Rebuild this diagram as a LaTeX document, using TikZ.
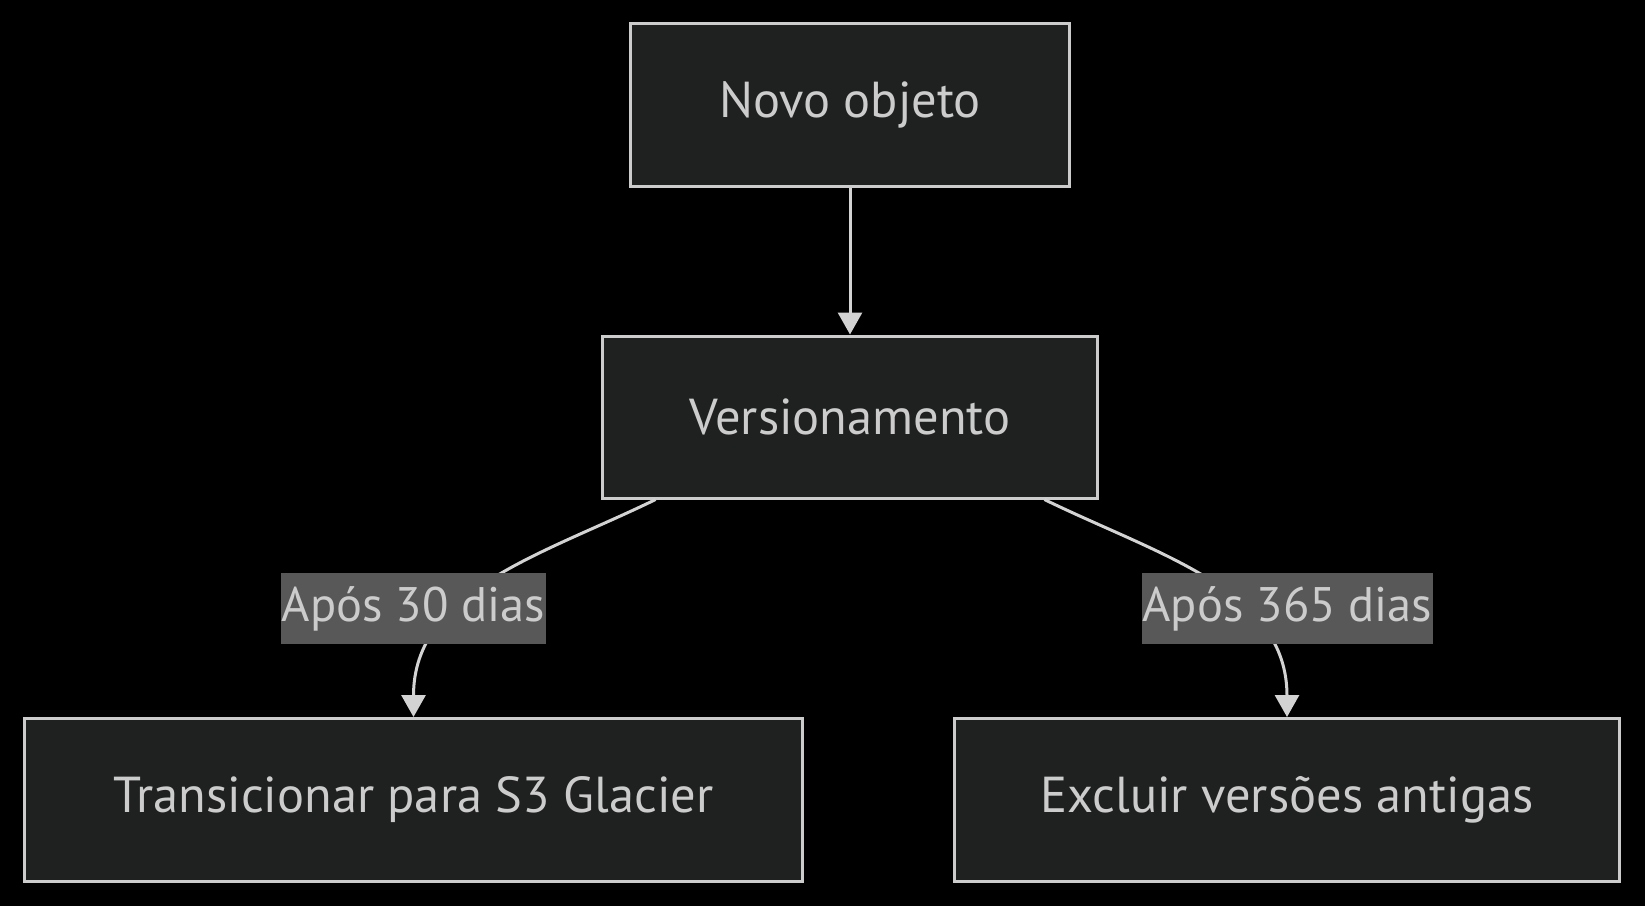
\documentclass[tikz,border=0pt]{standalone}
\usepackage{fontspec}
\setmainfont{PT Sans}
\usetikzlibrary{arrows.meta,positioning}
\definecolor{boxfill}{HTML}{1F2020}
\definecolor{boxline}{HTML}{CCCCCC}
\definecolor{labelfill}{HTML}{585858}
\definecolor{edgeline}{HTML}{D3D3D3}
\tikzset{
  StepBox/.style = { draw=boxline, fill=boxfill, line width=3pt, text=boxline,
    inner sep=0pt, font=\fontsize{50.5}{60}\selectfont },
  EdgeLabel/.style = { fill=labelfill, text=boxline, inner sep=0pt,
    minimum height=71pt, font=\fontsize{48.5}{58}\selectfont },
  Flow/.style = { draw=edgeline, line width=3pt, -{Triangle[width=24pt,length=22pt]} } }

\begin{document}
\begin{tikzpicture}[x=1pt,y=-1pt]
  \fill[black] (0,0) rectangle (1645,906);
  \useasboundingbox (0,0) rectangle (1645,906);
  % boxes
  \node[StepBox, minimum width=439pt, minimum height=163pt] (obj) at (850,104.5) {Novo objeto};
  \node[StepBox, minimum width=495pt, minimum height=162pt, below=147pt of obj] (ver) {Versionamento};
  \node[StepBox, minimum width=778pt, minimum height=163pt] (tra) at (413.5,800) {Transicionar para S3 Glacier};
  \node[StepBox, minimum width=665pt, minimum height=163pt] (exc) at (1287,800) {Excluir versões antigas};
  % edges
  \draw[Flow] (obj) -- (ver);
  \draw[Flow] (ver.203.5) to[out=206, in=90] (tra.north);
  \draw[Flow] (ver.-23.5) to[out=-26, in=90] (exc.north);
  % edge labels
  \node[EdgeLabel, minimum width=265pt] (d30) at (413.5,608.5) {Após 30 dias};
  \node[EdgeLabel, minimum width=291pt] (d365) at (1287.5,608.5) {Após 365 dias};
\end{tikzpicture}
\end{document}
